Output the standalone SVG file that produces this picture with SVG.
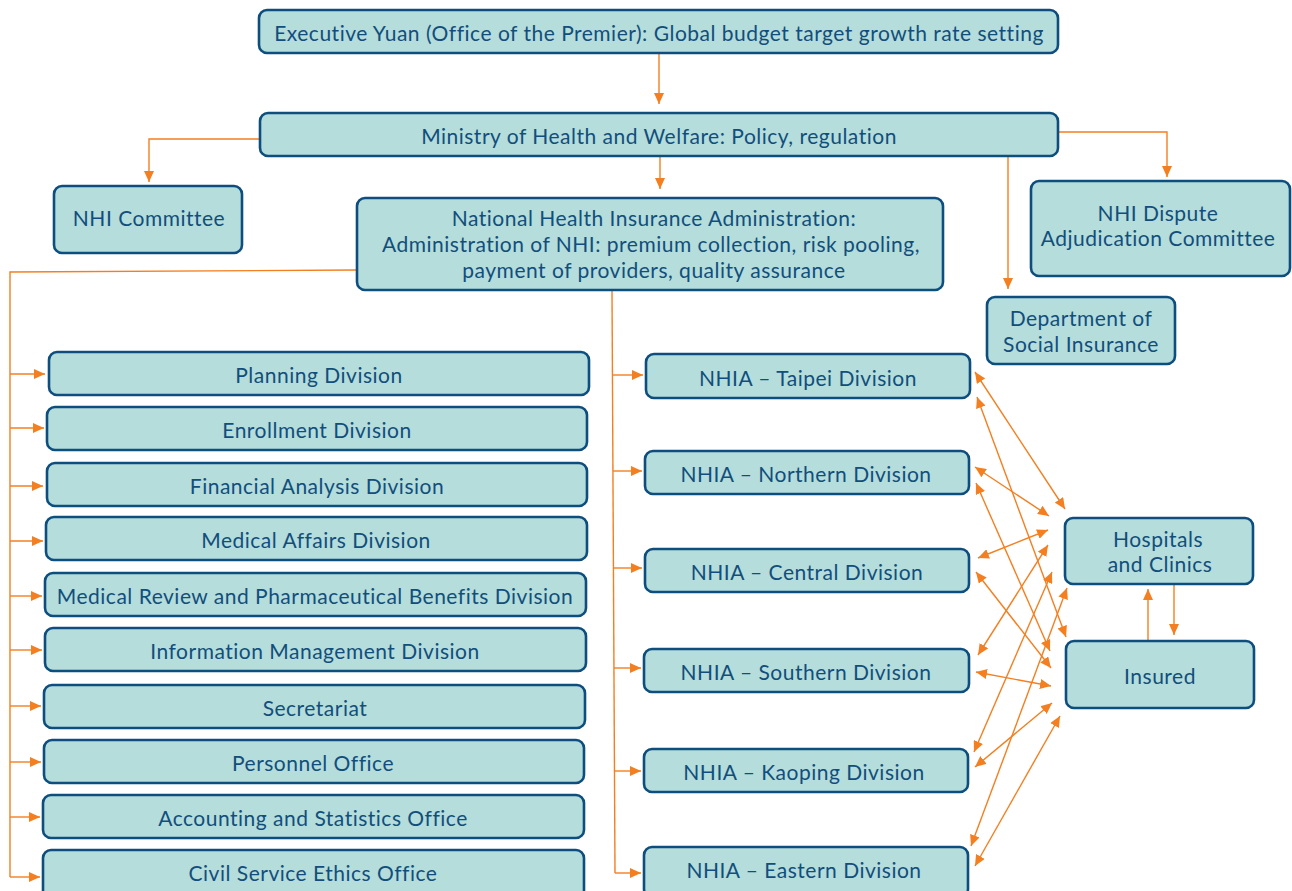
<svg xmlns="http://www.w3.org/2000/svg" width="1292" height="891" viewBox="0 0 1292 891">
<defs>
<style>
.b{fill:#b4dddb;stroke:#0d4e7f;stroke-width:2.6}
.t{font-family:Lato,"Open Sans","Liberation Sans",sans-serif;font-size:21px;letter-spacing:0.5px;fill:#124e7c;text-anchor:middle;dominant-baseline:central}
.c{fill:none;stroke:#f47f20;stroke-width:1.4}
.a{marker-end:url(#ah)}
.d{marker-end:url(#ah);marker-start:url(#ah)}
</style>
<marker id="ah" markerUnits="userSpaceOnUse" markerWidth="11" markerHeight="10" refX="11" refY="5" orient="auto-start-reverse" viewBox="0 0 11 10">
<path d="M0,0 L11,5 L0,10 z" fill="#f47f20"/>
</marker>
</defs>
<rect width="1292" height="891" fill="#ffffff"/>
<g id="connectors">
<path class="c a" d="M659,53 V104"/>
<path class="c a" d="M260,139 H149 V182"/>
<path class="c a" d="M660,156 V189"/>
<path class="c a" d="M1058,132 H1167 V177"/>
<path class="c a" d="M1008,156 V289"/>
<path class="c" d="M357,270 L10,272 V877"/>
<path class="c a" d="M10,374 H45"/>
<path class="c a" d="M10,428 H44"/>
<path class="c a" d="M10,486 H43"/>
<path class="c a" d="M10,541 H43"/>
<path class="c a" d="M10,596 H42"/>
<path class="c a" d="M10,650 H42"/>
<path class="c a" d="M10,706 H41"/>
<path class="c a" d="M10,762 H41"/>
<path class="c a" d="M10,817 H40"/>
<path class="c a" d="M10,877 H40"/>
<path class="c" d="M612,290 L615,873"/>
<path class="c a" d="M612,375 H643"/>
<path class="c a" d="M613,471 H642"/>
<path class="c a" d="M613,568 H642"/>
<path class="c a" d="M614,668 H641"/>
<path class="c a" d="M614,771 H641"/>
<path class="c a" d="M615,873 H641"/>
<path class="c d" d="M975,372 L1065,509"/>
<path class="c d" d="M977,397 L1066,637"/>
<path class="c d" d="M975,467 L1049,516"/>
<path class="c d" d="M976,483 L1050,651"/>
<path class="c d" d="M978,558 L1048,530"/>
<path class="c d" d="M976,572 L1051,668"/>
<path class="c d" d="M978,655 L1048,545"/>
<path class="c d" d="M976,672 L1051,686"/>
<path class="c d" d="M974,752 L1052,572"/>
<path class="c d" d="M975,767 L1052,703"/>
<path class="c d" d="M971,846 L1067,588"/>
<path class="c d" d="M975,866 L1060,716"/>
<path class="c a" d="M1148,641 V589"/>
<path class="c a" d="M1174,584 V635"/>
</g>
<g id="n-exec"><rect class="b" x="259" y="10" width="799" height="43" rx="8"/><text class="t" x="659" y="32">Executive Yuan (Office of the Premier): Global budget target growth rate setting</text></g>
<g id="n-ministry"><rect class="b" x="260" y="113" width="798" height="43" rx="8"/><text class="t" x="659" y="135">Ministry of Health and Welfare: Policy, regulation</text></g>
<g id="n-nhicom"><rect class="b" x="54" y="186" width="188" height="67" rx="8"/><text class="t" x="149" y="217">NHI Committee</text></g>
<g id="n-nhia"><rect class="b" x="357" y="198" width="586" height="92" rx="8"/><text class="t" x="654" y="217">National Health Insurance Administration:</text><text class="t" x="651" y="243">Administration of NHI: premium collection, risk pooling,</text><text class="t" x="654" y="269">payment of providers, quality assurance</text></g>
<g id="n-dispute"><rect class="b" x="1031" y="181" width="259" height="95" rx="8"/><text class="t" x="1158" y="212">NHI Dispute</text><text class="t" x="1158" y="237">Adjudication Committee</text></g>
<g id="n-dsi"><rect class="b" x="987" y="297" width="188" height="67" rx="8"/><text class="t" x="1081" y="317">Department of</text><text class="t" x="1081" y="343">Social Insurance</text></g>
<g id="n-planning"><rect class="b" x="49" y="352" width="540" height="43" rx="8"/><text class="t" x="319" y="374">Planning Division</text></g>
<g id="n-enroll"><rect class="b" x="47" y="407" width="540" height="43" rx="8"/><text class="t" x="317" y="429">Enrollment Division</text></g>
<g id="n-fin"><rect class="b" x="47" y="463" width="540" height="43" rx="8"/><text class="t" x="317" y="485">Financial Analysis Division</text></g>
<g id="n-med"><rect class="b" x="46" y="517" width="541" height="43" rx="8"/><text class="t" x="316" y="539">Medical Affairs Division</text></g>
<g id="n-review"><rect class="b" x="45" y="573" width="541" height="43" rx="8"/><text class="t" x="315" y="595">Medical Review and Pharmaceutical Benefits Division</text></g>
<g id="n-info"><rect class="b" x="45" y="628" width="541" height="43" rx="8"/><text class="t" x="315" y="650">Information Management Division</text></g>
<g id="n-sec"><rect class="b" x="44" y="685" width="541" height="43" rx="8"/><text class="t" x="315" y="707">Secretariat</text></g>
<g id="n-pers"><rect class="b" x="44" y="740" width="540" height="43" rx="8"/><text class="t" x="313" y="762">Personnel Office</text></g>
<g id="n-acct"><rect class="b" x="43" y="795" width="541" height="43" rx="8"/><text class="t" x="313" y="817">Accounting and Statistics Office</text></g>
<g id="n-ethics"><rect class="b" x="43" y="850" width="541" height="50" rx="8"/><text class="t" x="313" y="872">Civil Service Ethics Office</text></g>
<g id="n-taipei"><rect class="b" x="646" y="354" width="324" height="44" rx="8"/><text class="t" x="808" y="377">NHIA – Taipei Division</text></g>
<g id="n-north"><rect class="b" x="645" y="451" width="324" height="43" rx="8"/><text class="t" x="806" y="473">NHIA – Northern Division</text></g>
<g id="n-central"><rect class="b" x="645" y="549" width="324" height="43" rx="8"/><text class="t" x="807" y="571">NHIA – Central Division</text></g>
<g id="n-south"><rect class="b" x="644" y="649" width="325" height="43" rx="8"/><text class="t" x="806" y="671">NHIA – Southern Division</text></g>
<g id="n-kaoping"><rect class="b" x="644" y="749" width="324" height="43" rx="8"/><text class="t" x="804" y="771">NHIA – Kaoping Division</text></g>
<g id="n-east"><rect class="b" x="644" y="847" width="324" height="50" rx="8"/><text class="t" x="804" y="869">NHIA – Eastern Division</text></g>
<g id="n-hosp"><rect class="b" x="1065" y="518" width="188" height="66" rx="8"/><text class="t" x="1158" y="538">Hospitals</text><text class="t" x="1160" y="563">and Clinics</text></g>
<g id="n-insured"><rect class="b" x="1066" y="641" width="188" height="67" rx="8"/><text class="t" x="1160" y="675">Insured</text></g>
</svg>
